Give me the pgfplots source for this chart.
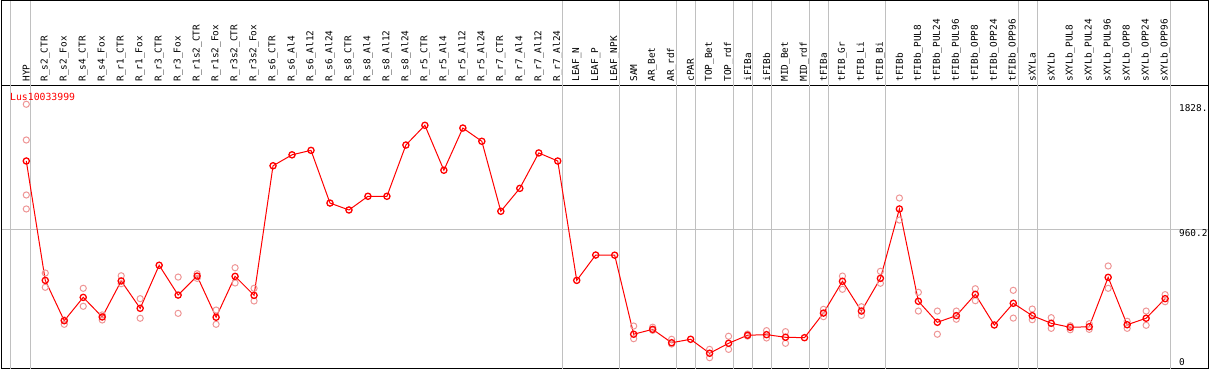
\documentclass[border=0pt]{standalone}
\usepackage{pgfplots}
\pgfplotsset{compat=1.18}
\usepackage{pgfplotstable}
\usepackage{fontspec}
\setmainfont{DejaVu Sans Mono}
\definecolor{sepc}{RGB}{192,192,192}
\definecolor{repc}{RGB}{238,150,150}

\pgfplotstableread{
x y
1 1434
2 605
3 325
4 487
5 351
6 601
7 411
8 710
9 503
10 635
11 349
12 633
13 501
14 1401
15 1477
16 1508
17 1142
18 1094
19 1189
20 1189
21 1545
22 1682
23 1370
24 1663
25 1571
26 1085
27 1244
28 1490
29 1434
30 605
31 781
32 780
33 231
34 265
35 172
36 196
37 99
38 168
39 224
40 228
41 210
42 207
43 378
44 599
45 392
46 619
47 1101
48 460
49 314
50 360
51 508
52 295
53 446
54 360
55 307
56 279
57 283
58 626
59 297
60 342
61 478
}\meanT

\pgfplotstableread{
x y
1 1828
1 1580
1 1198
1 1101
2 656
2 557
3 330
3 300
4 550
4 425
5 365
5 330
6 637
6 582
7 478
7 342
9 628
9 376
10 651
10 619
11 399
11 300
12 693
12 587
13 550
13 462
33 288
33 200
34 280
34 258
35 196
35 163
37 126
37 68
38 217
38 126
39 232
39 218
40 256
40 205
41 249
41 168
43 404
43 353
44 635
44 543
45 422
45 362
46 668
46 585
47 1177
47 1024
48 522
48 392
49 392
49 231
50 392
50 335
51 547
51 464
53 536
53 343
54 406
54 332
55 346
55 272
56 290
56 262
57 304
57 265
58 705
58 550
59 321
59 272
60 392
60 293
61 506
61 457
}\repT

\begin{document}
\begin{tikzpicture}
\begin{axis}[
  scale only axis,
  width=1206.3pt, height=283.3pt,
  xmin=-0.296, xmax=63.26,
  ymin=-10.4, ymax=1957,
  axis line style={line width=1pt},
  clip=false,
  xtick={1,...,61},
  xticklabels={HYP, R\_s2\_CTR, R\_s2\_Fox, R\_s4\_CTR, R\_s4\_Fox, R\_r1\_CTR, R\_r1\_Fox, R\_r3\_CTR, R\_r3\_Fox, R\_r1s2\_CTR, R\_r1s2\_Fox, R\_r3s2\_CTR, R\_r3s2\_Fox, R\_s6\_CTR, R\_s6\_Al4, R\_s6\_Al12, R\_s6\_Al24, R\_s8\_CTR, R\_s8\_Al4, R\_s8\_Al12, R\_s8\_Al24, R\_r5\_CTR, R\_r5\_Al4, R\_r5\_Al12, R\_r5\_Al24, R\_r7\_CTR, R\_r7\_Al4, R\_r7\_Al12, R\_r7\_Al24, LEAF\_N, LEAF\_P, LEAF\_NPK, SAM, AR\_Bet, AR\_rdf, cPAR, TOP\_Bet, TOP\_rdf, iFIBa, iFIBb, MID\_Bet, MID\_rdf, tFIBa, tFIB\_Gr, tFIB\_Li, tFIB\_Bi, tFIBb, tFIBb\_PUL8, tFIBb\_PUL24, tFIBb\_PUL96, tFIBb\_OPP8, tFIBb\_OPP24, tFIBb\_OPP96, sXYLa, sXYLb, sXYLb\_PUL8, sXYLb\_PUL24, sXYLb\_PUL96, sXYLb\_OPP8, sXYLb\_OPP24, sXYLb\_OPP96},
  xticklabel pos=upper,
  major tick length=0pt,
  xticklabel style={rotate=90, anchor=west, inner sep=0pt, font=\fontsize{9.4}{10}\selectfont},
  xticklabel shift=4pt,
  ytick=\empty,
]
% grid lines
\draw[sepc, line width=1pt] (axis cs:-0.296,960.2) -- (axis cs:63.26,960.2);
\pgfplotsinvokeforeach{0.18,1.23,29.26,32.24,35.27,36.27,38.27,39.27,40.27,42.27,43.27,46.27,53.29,54.29,61.27}{
  \draw[sepc, line width=1pt] (axis cs:#1,-10.4) -- ([yshift=85.2pt]axis cs:#1,1957);
}
% replicates
\addplot[only marks, repc, mark=o, mark size=3.1pt, mark options={line width=1pt}] table[x=x,y=y] {\repT};
% means
\addplot[red, line width=1pt, mark=o, mark size=3.1pt, mark options={line width=1.3pt}] table[x=x,y=y] {\meanT};
% labels
\node[red, anchor=base west, inner sep=0pt, font=\fontsize{9.8}{10}\selectfont] at ([xshift=8.3pt, yshift=-15pt]rel axis cs:0,1) {Lus10033999};
\node[anchor=north west, inner sep=0pt, font=\fontsize{9.4}{10}\selectfont] at ([yshift=-0.5pt]axis cs:61.73,1828) {1828.};
\node[anchor=north west, inner sep=0pt, font=\fontsize{9.4}{10}\selectfont] at ([yshift=-0.5pt]axis cs:61.73,960.2) {960.2};
\node[anchor=south west, inner sep=0pt, font=\fontsize{9.4}{10}\selectfont] at ([yshift=1.5pt]axis cs:61.73,0) {0};
\end{axis}
\draw[line width=1pt] (current axis.north west) -- ([yshift=85.2pt]current axis.north west) -- ([yshift=85.2pt]current axis.north east) -- (current axis.north east);
\pgfresetboundingbox
\path[use as bounding box] ([shift={(-1.7pt,-1pt)}]current axis.south west) rectangle ([shift={(1pt,85.7pt)}]current axis.north east);
\end{tikzpicture}
\end{document}
